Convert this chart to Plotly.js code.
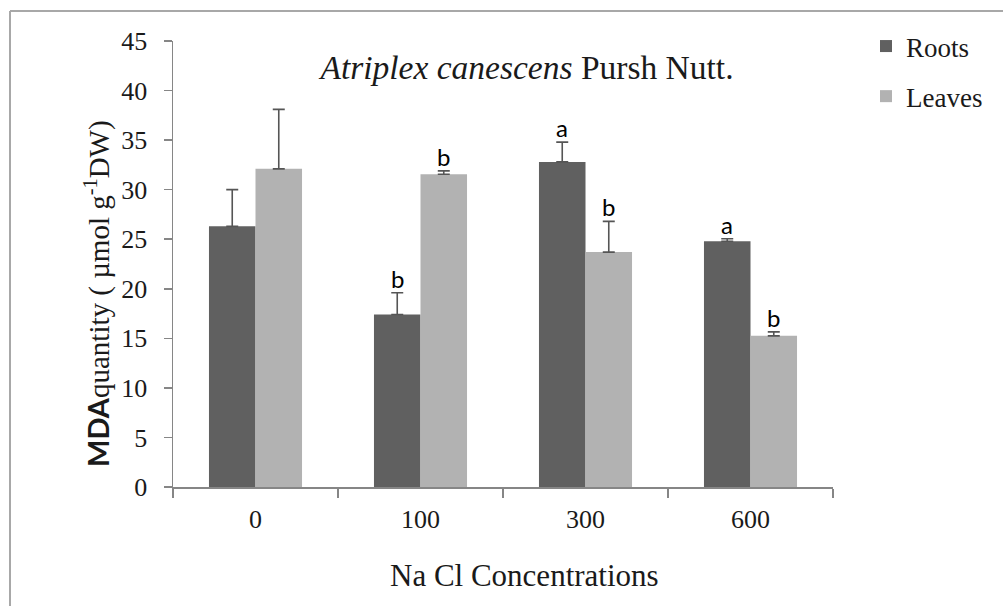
<!DOCTYPE html>
<html>
<head>
<meta charset="utf-8">
<script src="https://cdn.plot.ly/plotly-3.0.1.min.js"></script>
<style>html,body{margin:0;padding:0;background:#fff;}#chart{width:1003px;height:606px;}</style>
</head>
<body>
<div id="chart"></div>
<script>
const categories = ['0', '100', '300', '600'];
const seriesNames = ['Roots', 'Leaves'];
const rootsValues = [26.3, 17.4, 32.8, 24.8];
const rootsErrors = [3.7, 2.2, 2.0, 0.25];
const leavesValues = [32.1, 31.55, 23.7, 15.25];
const leavesErrors = [6.0, 0.35, 3.1, 0.4];
const rootsLetters = ['', 'b', 'a', 'a'];
const leavesLetters = ['', 'b', 'b', 'b'];
const yTickValues = [0, 5, 10, 15, 20, 25, 30, 35, 40, 45];

const serif = 'Liberation Serif, Times New Roman, serif';
const sans = 'Lato, Liberation Sans, sans-serif';
const txt = '#1a1a1a';

const errStyle = {type: 'data', symmetric: false, arrayminus: [0,0,0,0], color: '#555555', thickness: 1.6, width: 6};

const traces = [
  {type: 'bar', name: seriesNames[0], x: categories, y: rootsValues, legendgroup: 'r',
   marker: {color: '#606060'},
   error_y: Object.assign({array: rootsErrors}, errStyle)},
  {type: 'bar', name: seriesNames[1], x: categories, y: leavesValues, legendgroup: 'l',
   marker: {color: '#b2b2b2'},
   error_y: Object.assign({array: leavesErrors}, errStyle)}
];

const L = 173, R = 833, T = 41, B = 487, W = 1003, H = 606;
const px = v => (v - L) / (R - L);
const py = v => (B - v) / (B - T);

const annotations = [];
const offset = 23.3;
categories.forEach((c, i) => {
  if (rootsLetters[i]) annotations.push({x: i, y: rootsValues[i] + rootsErrors[i], xref: 'x', yref: 'y',
    text: rootsLetters[i], showarrow: false, xshift: -offset, yanchor: 'bottom', yshift: -2,
    font: {family: sans, size: 24, color: '#000'}});
  if (leavesLetters[i]) annotations.push({x: i, y: leavesValues[i] + leavesErrors[i], xref: 'x', yref: 'y',
    text: leavesLetters[i], showarrow: false, xshift: offset, yanchor: 'bottom', yshift: -2,
    font: {family: sans, size: 24, color: '#000'}});
});
annotations.push({
  xref: 'paper', yref: 'paper', x: px(97), y: py(294), textangle: -90, showarrow: false,
  xanchor: 'center', yanchor: 'middle',
  text: "<span style='font-family:Lato;font-weight:bold'>MDA</span>quantity ( µmol g<sup>-1</sup>DW)",
  font: {family: serif, size: 29, color: txt}
});
annotations.push({
  xref: 'paper', yref: 'paper', x: px(524), y: py(575), showarrow: false,
  xanchor: 'center', yanchor: 'middle',
  text: 'Na Cl Concentrations',
  font: {family: serif, size: 31, color: txt}
});

const layout = {
  width: W, height: H,
  margin: {l: L, r: W - R, t: T, b: H - B, pad: 0},
  paper_bgcolor: '#fff', plot_bgcolor: '#fff',
  barmode: 'group', bargap: 0.436, bargroupgap: 0,
  title: {text: '<i>Atriplex canescens</i> Pursh Nutt.', xref: 'container', yref: 'container',
    x: 527 / W, xanchor: 'center', y: 1 - 67 / H, yanchor: 'middle',
    font: {family: serif, size: 33.5, color: txt}},
  xaxis: {type: 'category', range: [-0.5, 3.5], tickson: 'boundaries', ticks: 'outside', ticklen: 9, tickwidth: 1.5,
    tickcolor: '#868686', showline: true, linecolor: '#868686', linewidth: 1.5, showgrid: false,
    tickfont: {family: serif, size: 26, color: txt}, ticklabelstandoff: 8, tickangle: 0},
  yaxis: {range: [0, 45], tickvals: yTickValues, ticks: 'outside', ticklen: 8, tickwidth: 1.5,
    tickcolor: '#868686', showline: true, linecolor: '#868686', linewidth: 1.5, showgrid: false,
    zeroline: false, tickfont: {family: serif, size: 26, color: txt}, ticklabelstandoff: 11},
  showlegend: true,
  legend: {xref: 'container', yref: 'container', x: 866 / W, y: 1 - 22 / H, xanchor: 'left', yanchor: 'top',
    font: {family: serif, size: 27, color: txt}, traceorder: 'grouped', tracegroupgap: 12,
    bgcolor: 'rgba(0,0,0,0)', borderwidth: 0, itemwidth: 30},
  annotations: annotations,
  shapes: [
    {type: 'line', xref: 'paper', yref: 'paper', x0: px(10), x1: px(W + 5), y0: py(11), y1: py(11),
     line: {color: '#a8a8a8', width: 2}},
    {type: 'line', xref: 'paper', yref: 'paper', x0: px(10), x1: px(10), y0: py(11), y1: py(H + 5),
     line: {color: '#a8a8a8', width: 2}}
  ]
};

Plotly.newPlot('chart', traces, layout, {displayModeBar: false, staticPlot: true});
</script>
</body>
</html>
